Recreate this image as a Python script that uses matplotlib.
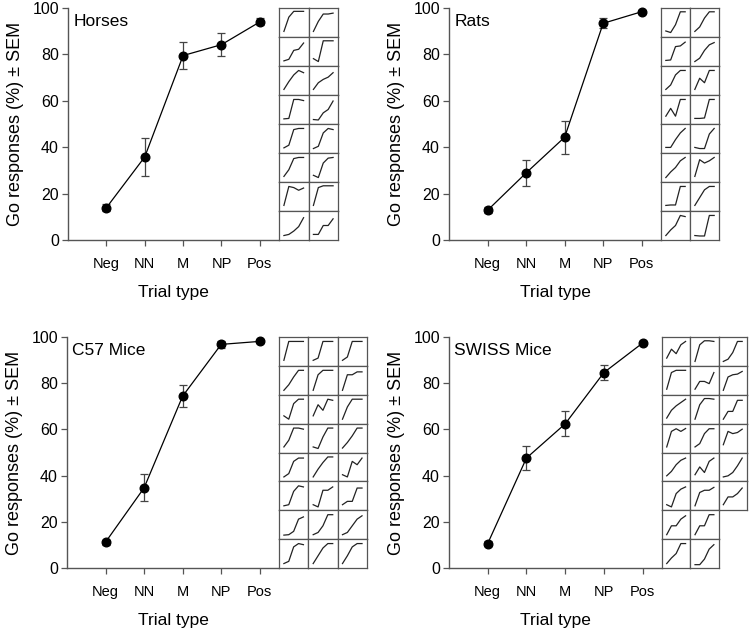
import matplotlib
matplotlib.use("Agg")
import matplotlib.pyplot as plt

plt.rcParams['font.family'] = ['Liberation Sans', 'DejaVu Sans']

trial_types = ["Neg", "NN", "M", "NP", "Pos"]

horses_mean = [13.9, 35.8, 79.5, 84.2, 94.0]
horses_sem = [1.5, 8.1, 5.7, 5.0, 1.5]
rats_mean = [12.8, 28.9, 44.3, 93.4, 98.4]
rats_sem = [1.3, 5.7, 7.1, 2.2, 0.7]
c57_mean = [11.2, 34.7, 74.4, 96.8, 98.1]
c57_sem = [1.1, 5.8, 4.7, 1.6, 0.5]
swiss_mean = [10.6, 47.6, 62.4, 84.6, 97.4]
swiss_sem = [1.1, 5.0, 5.4, 3.4, 0.8]

horses_ind = [
    [10, 74, 100, 100, 100], [10, 55, 88, 88, 92],
    [8, 15, 55, 60, 88], [18, 5, 98, 98, 98],
    [10, 45, 75, 95, 85], [10, 40, 55, 65, 85],
    [8, 10, 95, 95, 90], [5, 3, 35, 50, 88],
    [8, 20, 90, 95, 95], [5, 15, 75, 95, 90],
    [10, 40, 90, 95, 95], [15, 5, 70, 92, 95],
    [10, 95, 90, 78, 88], [10, 90, 98, 98, 98],
    [5, 10, 25, 45, 85], [10, 10, 50, 50, 80],
]
rats_ind = [
    [12, 5, 40, 98, 98], [10, 30, 70, 98, 98],
    [10, 12, 72, 75, 92], [5, 20, 55, 80, 90],
    [10, 30, 75, 95, 95], [10, 60, 40, 95, 95],
    [20, 55, 20, 95, 95], [10, 10, 12, 95, 95],
    [10, 10, 45, 75, 95], [10, 5, 5, 70, 95],
    [5, 30, 50, 80, 95], [10, 85, 70, 80, 95],
    [10, 12, 12, 95, 95], [10, 45, 80, 95, 95],
    [5, 30, 50, 95, 90], [5, 3, 3, 95, 95],
]
c57_ind = [
    [10, 95, 95, 95, 95], [10, 20, 95, 95, 95], [10, 25, 95, 95, 95],
    [5, 30, 65, 95, 95], [5, 75, 95, 95, 95], [5, 75, 75, 88, 88],
    [20, 5, 75, 95, 95], [20, 70, 45, 95, 90], [5, 60, 95, 95, 95],
    [10, 40, 95, 95, 90], [10, 3, 55, 95, 95], [5, 30, 60, 95, 95],
    [5, 20, 75, 90, 90], [5, 40, 70, 95, 95], [15, 5, 75, 60, 90],
    [5, 10, 70, 95, 90], [10, 0, 75, 75, 90], [10, 25, 25, 85, 85],
    [3, 5, 20, 75, 85], [5, 15, 45, 95, 95], [5, 15, 45, 75, 90],
    [5, 15, 80, 95, 90], [5, 40, 75, 95, 95], [5, 40, 80, 95, 95],
]
swiss_ind = [
    [20, 60, 40, 80, 95], [5, 80, 98, 98, 95], [5, 15, 45, 95, 95],
    [10, 85, 95, 95, 95], [10, 45, 45, 35, 85], [5, 65, 75, 78, 90],
    [10, 45, 65, 80, 95], [5, 70, 98, 98, 95], [5, 40, 40, 90, 90],
    [10, 80, 92, 80, 93], [10, 25, 70, 92, 92], [20, 80, 70, 75, 90],
    [10, 30, 60, 80, 90], [15, 50, 25, 75, 90], [5, 10, 25, 55, 90],
    [10, 0, 60, 80, 90], [5, 65, 75, 75, 88], [10, 45, 45, 60, 85],
    [5, 45, 45, 75, 90], [5, 45, 45, 95, 95],
    [5, 30, 50, 95, 95], [0, 0, 25, 70, 90],
]
swiss_rows = [3, 3, 3, 3, 3, 3, 2, 2]

W, H = 750, 632
fig = plt.figure(figsize=(7.5, 6.32), dpi=100)
spine_col = "#555555"

panels = [
    ("Horses", horses_mean, horses_sem, horses_ind, [2] * 8, 68, 279, 8, 240, 29.5),
    ("Rats", rats_mean, rats_sem, rats_ind, [2] * 8, 449, 661, 8, 240, 29.0),
    ("C57 Mice", c57_mean, c57_sem, c57_ind, [3] * 8, 67, 279, 337, 568, 29.3),
    ("SWISS Mice", swiss_mean, swiss_sem, swiss_ind, swiss_rows, 449, 662, 337, 568, 28.3),
]

xs = list(range(1, len(trial_types) + 1))

for name, mean, sem, ind, rows, l, r, t, b, cw in panels:
    ax = fig.add_axes([l / W, 1 - b / H, (r - l) / W, (b - t) / H])
    ax.errorbar(xs, mean, yerr=sem, fmt='none', ecolor='#444444', elinewidth=0.9,
                capsize=3.2, capthick=0.9, zorder=2, clip_on=False)
    ax.plot(xs, mean, '-', color='black', lw=0.9, zorder=3, clip_on=False)
    ax.plot(xs, mean, 'o', color='black', ms=6.2, zorder=4, clip_on=False)
    ax.set_xlim(0, 5.5)
    ax.set_ylim(0, 100)
    ax.set_yticks([0, 20, 40, 60, 80, 100])
    ax.set_xticks(xs)
    ax.set_xticklabels(trial_types)
    for s in ['top', 'right']:
        ax.spines[s].set_visible(False)
    for s in ['left', 'bottom']:
        ax.spines[s].set_color(spine_col)
        ax.spines[s].set_linewidth(1.0)
    ax.tick_params(axis='both', direction='out', length=4, width=0.9, color=spine_col)
    ax.tick_params(axis='x', pad=8, labelsize=10.5)
    ax.tick_params(axis='y', pad=2.5, labelsize=11.5)
    ax.set_xlabel("Trial type", fontsize=12.5, labelpad=10)
    ax.set_ylabel("Go responses (%) ± SEM", fontsize=13, labelpad=6)
    ax.text(0.025, 0.975, name, transform=ax.transAxes, ha='left', va='top', fontsize=12.5)

    # inset grid of individual curves
    ch = (b - t) / 8.0
    k = 0
    for ri, ncols in enumerate(rows):
        for ci in range(ncols):
            x0 = r + ci * cw
            y0 = t + ri * ch
            iax = fig.add_axes([x0 / W, 1 - (y0 + ch) / H, cw / W, ch / H])
            iax.plot(xs, ind[k], '-', color='#222222', lw=0.9)
            iax.set_xlim(0, 6)
            iax.set_ylim(-15, 115)
            iax.set_xticks([])
            iax.set_yticks([])
            for s in iax.spines.values():
                s.set_color(spine_col)
                s.set_linewidth(0.9)
            k += 1

fig.savefig("out.png", dpi=100)
